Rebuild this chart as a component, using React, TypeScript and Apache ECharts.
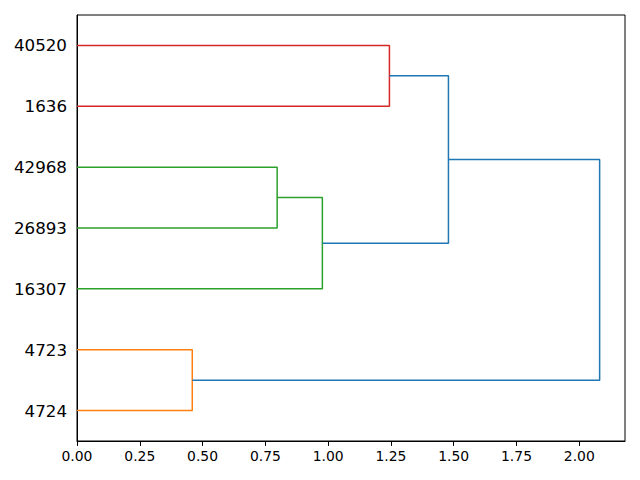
import React, { useEffect, useRef } from "react";
import * as echarts from "echarts";

// Leaf labels, bottom to top (leaf positions 5, 15, 25, ...)
const leafLabels = ["4724", "4723", "16307", "26893", "42968", "1636", "40520"];
const leafPositions = [5, 15, 25, 35, 45, 55, 65];

// Each link: positions of the two children along the leaf axis,
// the heights of the two children, the merge height, and its colour
const linkLowPos = [5, 35, 25, 55, 32.5, 10];
const linkHighPos = [15, 45, 40, 65, 60, 46.25];
const linkLowHeight = [0, 0, 0, 0, 0.977, 0.459];
const linkHighHeight = [0, 0, 0.797, 0, 1.244, 1.479];
const linkMergeHeight = [0.459, 0.797, 0.977, 1.244, 1.479, 2.081];
const linkColors = ["#ff7f0e", "#2ca02c", "#2ca02c", "#d62728", "#1f77b4", "#1f77b4"];

const xTicks = [0, 0.25, 0.5, 0.75, 1.0, 1.25, 1.5, 1.75, 2.0];

export default function App() {
  const ref = useRef<HTMLDivElement>(null);
  useEffect(() => {
    if (!ref.current) return;
    const chart = echarts.init(ref.current, undefined, { renderer: "svg" });
    const series = linkLowPos.map((_, i) => ({
      type: "line",
      data: [
        [linkLowHeight[i], linkLowPos[i]],
        [linkMergeHeight[i], linkLowPos[i]],
        [linkMergeHeight[i], linkHighPos[i]],
        [linkHighHeight[i], linkHighPos[i]],
      ],
      showSymbol: false,
      symbol: "none",
      lineStyle: { color: linkColors[i], width: 1.5 },
      silent: true,
    }));
    chart.setOption({
      animation: false,
      grid: {
        left: 77,
        right: 15,
        top: 15,
        bottom: 39,
        show: true,
        borderColor: "#000",
        borderWidth: 1,
        backgroundColor: "#fff",
      },
      xAxis: {
        type: "value",
        min: 0,
        max: 2.182,
        interval: 0.25,
        splitLine: { show: false },
        axisLine: { show: true, lineStyle: { color: "#000", width: 1 } },
        axisTick: {
          show: true,
          length: 4.9,
          lineStyle: { color: "#000" },
          customValues: xTicks,
        },
        axisLabel: {
          color: "#000",
          fontSize: 13.9,
          fontFamily: "DejaVu Sans",
          margin: 8,
          customValues: xTicks,
          formatter: (v: number) => v.toFixed(2),
        },
      },
      yAxis: {
        type: "value",
        min: 0,
        max: 70,
        splitLine: { show: false },
        axisLine: { show: true, lineStyle: { color: "#000", width: 1 } },
        axisTick: { show: false },
        axisLabel: {
          color: "#000",
          fontSize: 16.7,
          fontFamily: "DejaVu Sans",
          margin: 10,
          customValues: leafPositions,
          formatter: (v: number) => {
            const idx = leafPositions.indexOf(v);
            return idx >= 0 ? leafLabels[idx] : "";
          },
        },
      },
      series,
    });
    return () => chart.dispose();
  }, []);
  return <div ref={ref} style={{ width: 640, height: 480, position: "absolute", left: 0, top: 0 }} />;
}
